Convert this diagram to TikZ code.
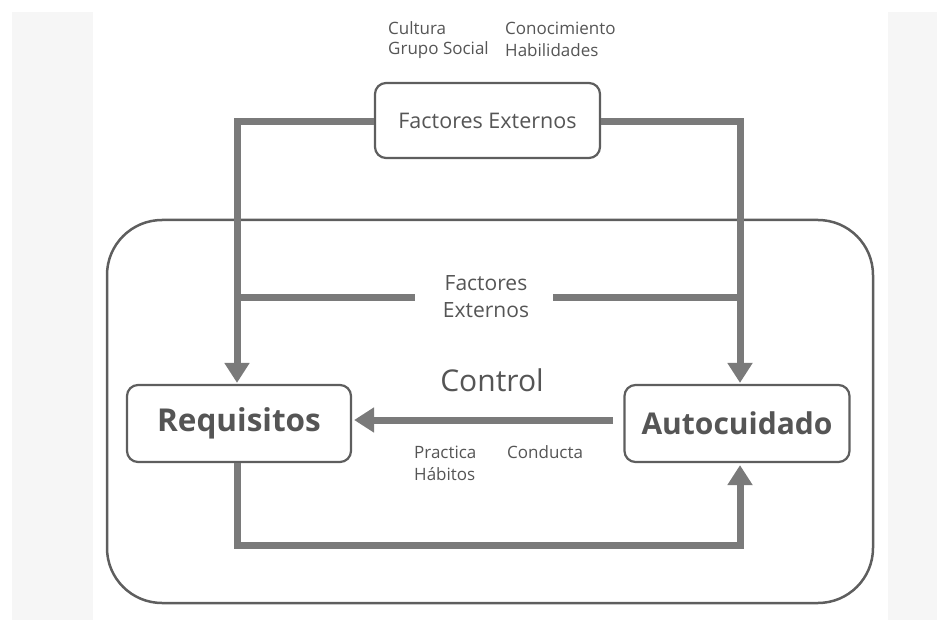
\documentclass[tikz,border=0pt]{standalone}
\usepackage{fontspec}
\setmainfont{Open Sans}
\usetikzlibrary{arrows.meta,calc}
\definecolor{panel}{HTML}{F6F6F6}
\definecolor{flow}{HTML}{7A7A7A}
\definecolor{edge}{HTML}{5E5E5E}
\definecolor{txt}{HTML}{555555}
\tikzset{
  boxnode/.style={draw=edge, line width=2.2pt, rounded corners=11pt, fill=white, text=txt, align=center, inner sep=0pt},
  flowline/.style={draw=flow, line width=7pt},
  flowarrow/.style={flowline, -{Triangle[length=20pt,width=24pt]}},
  smalltxt/.style={text=txt, font=\fontsize{17}{19}\selectfont, anchor=west, inner sep=0pt},
}
\begin{document}
\begin{tikzpicture}[x=1pt,y=-1pt]
\useasboundingbox (0,0) rectangle (937,620);
\fill[panel] (12,12) rectangle (93,620);
\fill[panel] (888,12) rectangle (937,620);
% outer frame
\draw[edge, line width=2.5pt, rounded corners=55pt] (107,220) rectangle (873,603);
% nodes
\node[boxnode, minimum width=225pt, minimum height=75pt, font=\fontsize{21.5}{24}\selectfont] (fe) at (487.5,120.5) {Factores Externos};
\node[boxnode, minimum width=224pt, minimum height=77pt, font=\fontsize{31.5}{34}\selectfont\bfseries] (req) at (239,423.5) {Requisitos};
\node[boxnode, minimum width=225pt, minimum height=77pt, font=\fontsize{30}{33}\selectfont\bfseries] (auto) at (737,423.5) {Autocuidado};
\node[text=txt, font=\fontsize{30}{32}\selectfont] (ctl) at (492,380) {Control};
\node[text=txt, align=center, font=\fontsize{21}{27}\selectfont, inner sep=0pt] (mid) at (486,297) {Factores\\Externos};
% small labels
\node[smalltxt] (cul) at (388,28) {Cultura};
\node[smalltxt] (gs) at (388,50) {Grupo Social};
\node[smalltxt] (con) at (505,28) {Conocimiento};
\node[smalltxt] (hab) at (505,50) {Habilidades};
\node[smalltxt] (pra) at (414,452) {Practica};
\node[smalltxt] (cond) at (507,452) {Conducta};
\node[smalltxt] (habi) at (414,474) {Hábitos};
% coordinates
\coordinate (lt) at (237,122);
\coordinate (rt) at (740,122);
\coordinate (ml) at (237,298);
\coordinate (mr) at (740,298);
\coordinate (mla) at (415,298);
\coordinate (mrb) at (553,298);
\coordinate (bl) at (237,545);
\coordinate (cs) at (613,420);
% connectors
\draw[flowarrow, shorten >=1pt] (fe.west |- lt) -- (lt) -- (req.north -| lt);
\draw[flowarrow, shorten >=1pt] (fe.east |- rt) -- (rt) -- (auto.north -| rt);
\draw[flowline] (ml) -- (mla);
\draw[flowline] (mrb) -- (mr);
\draw[flowarrow, shorten >=2pt] (cs) -- (req.east |- cs);
\draw[flowarrow, shorten >=2pt] (req.south -| bl) -- (bl) -| (auto.south -| rt);
\end{tikzpicture}
\end{document}
